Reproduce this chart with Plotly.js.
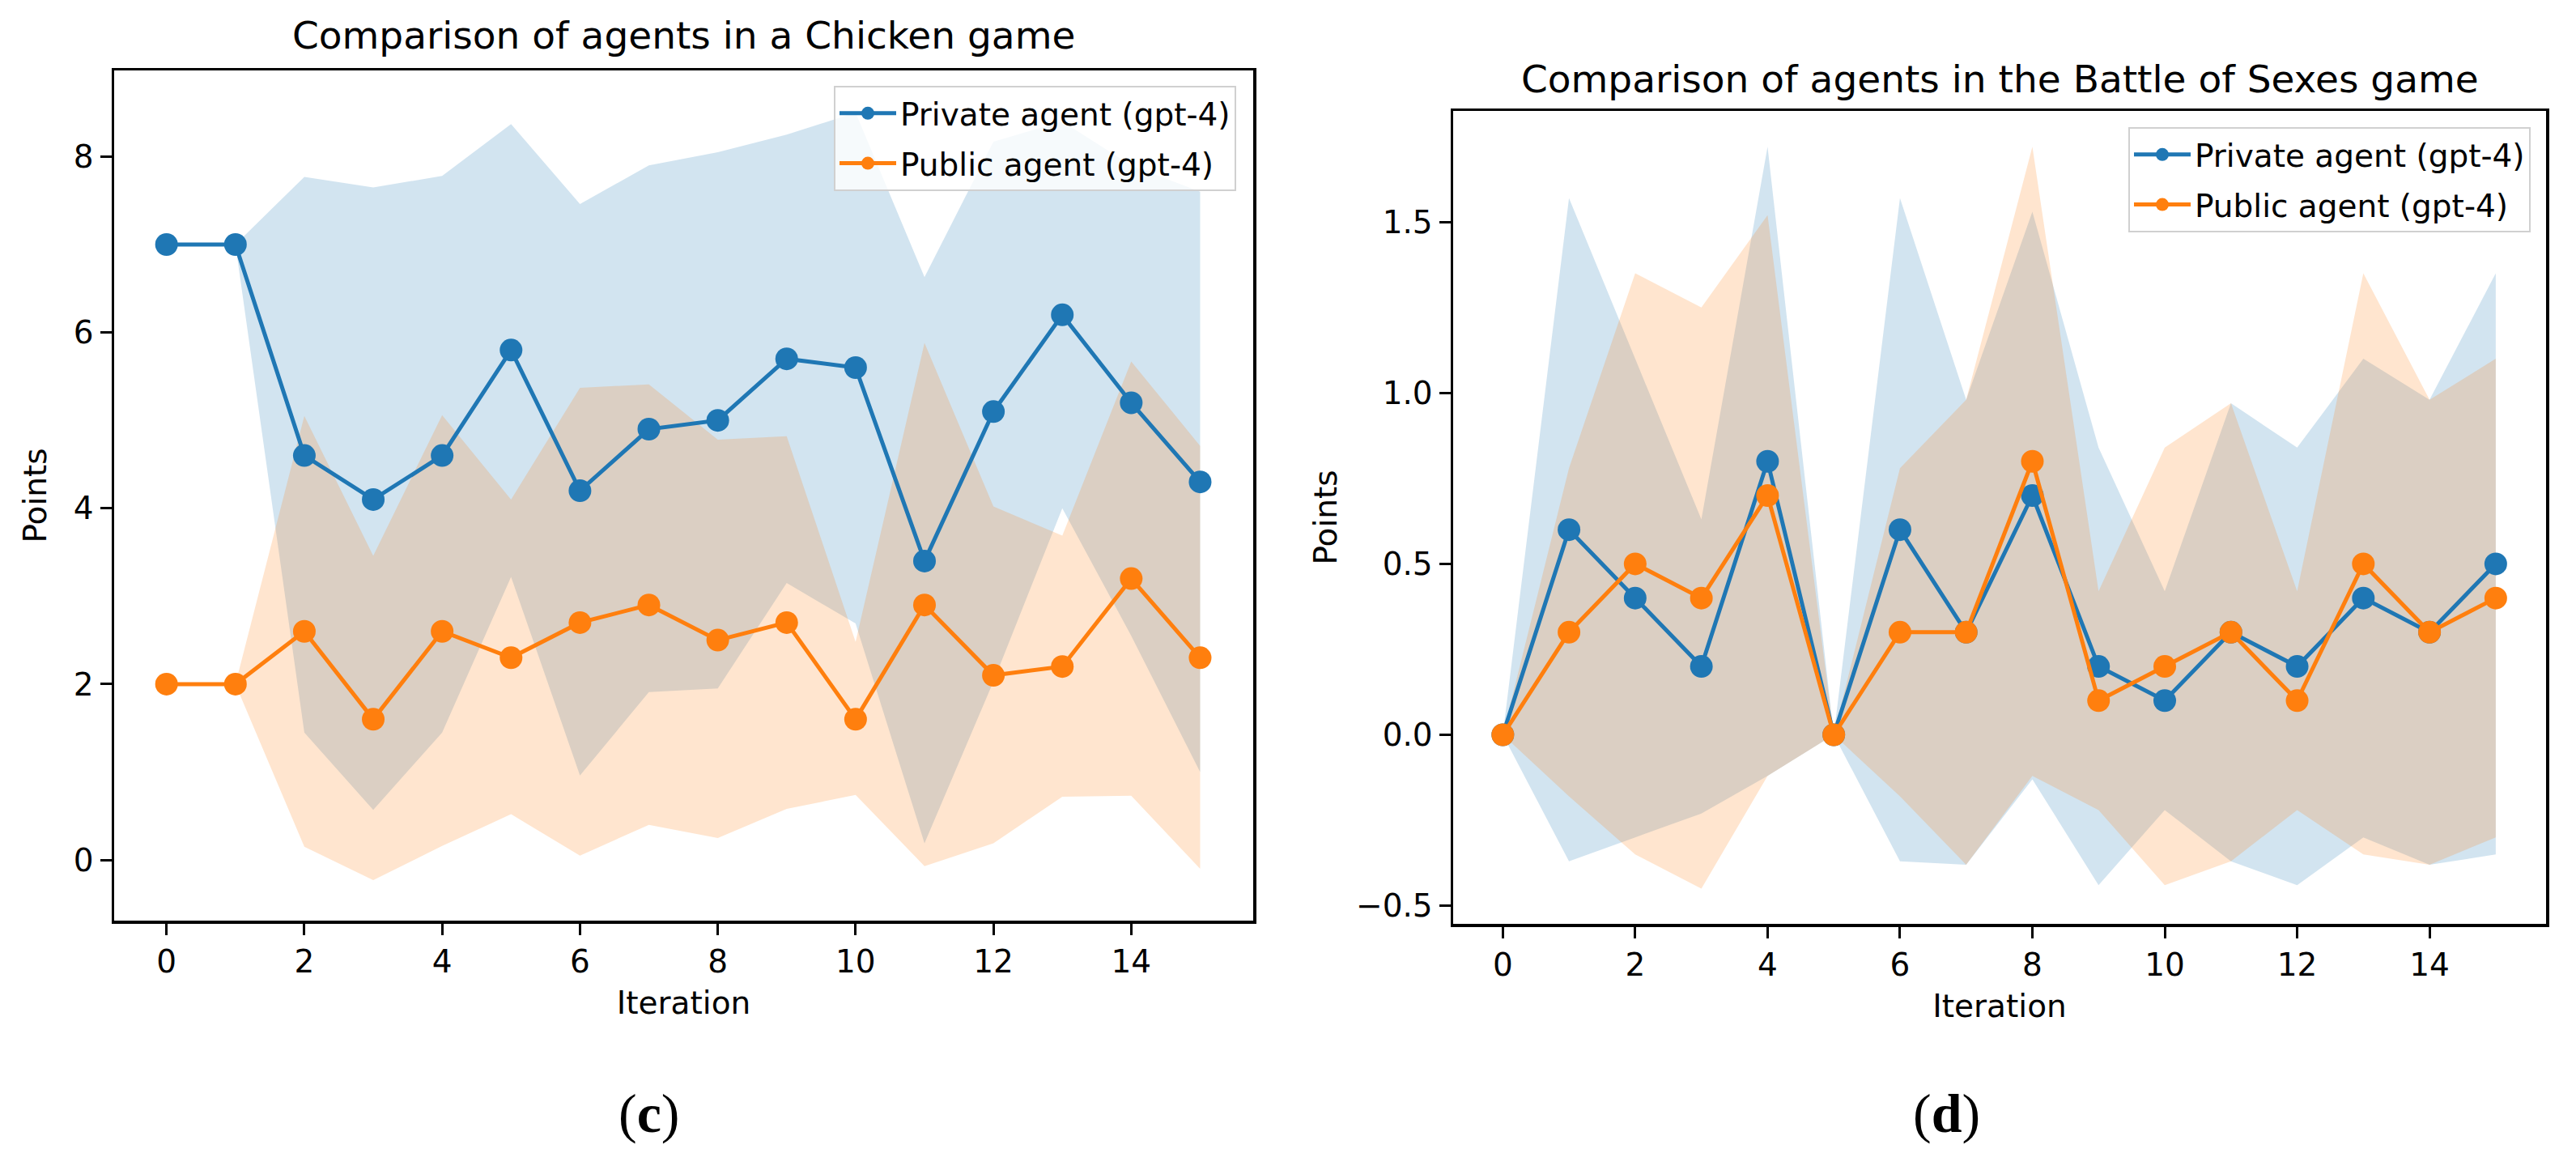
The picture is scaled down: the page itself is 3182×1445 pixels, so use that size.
<!DOCTYPE html>
<html>
<head>
<meta charset="utf-8">
<script src="https://cdn.plot.ly/plotly-3.0.1.min.js"></script>
<style>html,body{margin:0;padding:0;background:#fff;}#chart{width:3182px;height:1445px;}</style>
</head>
<body>
<div id="chart"></div>
<script>
const iterations = [0,1,2,3,4,5,6,7,8,9,10,11,12,13,14,15];

// (c) Chicken game
const chickenPrivate      = [7,7,4.6,4.1,4.6,5.8,4.2,4.9,5.0,5.7,5.6,3.4,5.1,6.2,5.2,4.3];
const chickenPrivateUpper = [7,7,7.77,7.65,7.78,8.37,7.46,7.90,8.05,8.25,8.50,6.63,8.17,8.40,7.90,7.60];
const chickenPrivateLower = [7,7,1.45,0.57,1.45,3.22,0.96,1.91,1.95,3.15,2.69,0.19,2.03,4.00,2.55,1.00];
const chickenPublic       = [2,2,2.6,1.6,2.6,2.3,2.7,2.9,2.5,2.7,1.6,2.9,2.1,2.2,3.2,2.3];
const chickenPublicUpper  = [2,2,5.05,3.46,5.06,4.10,5.37,5.41,4.78,4.82,2.48,5.88,4.02,3.69,5.67,4.71];
const chickenPublicLower  = [2,2,0.15,-0.23,0.16,0.52,0.05,0.40,0.25,0.58,0.74,-0.07,0.19,0.72,0.73,-0.10];

// (d) Battle of Sexes game
const bosPrivate      = [0,0.6,0.4,0.2,0.8,0,0.6,0.3,0.7,0.2,0.1,0.3,0.2,0.4,0.3,0.5];
const bosPrivateUpper = [0,1.57,1.10,0.63,1.72,0,1.57,0.98,1.53,0.84,0.42,0.97,0.84,1.10,0.98,1.35];
const bosPrivateLower = [0,-0.37,-0.30,-0.23,-0.12,0,-0.37,-0.38,-0.13,-0.44,-0.22,-0.37,-0.44,-0.30,-0.38,-0.35];
const bosPublic       = [0,0.3,0.5,0.4,0.7,0,0.3,0.3,0.8,0.1,0.2,0.3,0.1,0.5,0.3,0.4];
const bosPublicUpper  = [0,0.78,1.35,1.25,1.52,0,0.78,0.98,1.72,0.42,0.84,0.97,0.42,1.35,0.98,1.10];
const bosPublicLower  = [0,-0.18,-0.35,-0.45,-0.12,0,-0.18,-0.38,-0.12,-0.22,-0.44,-0.37,-0.22,-0.35,-0.38,-0.30];

const seriesNames = ['Private agent (gpt-4)', 'Public agent (gpt-4)'];
const titles = ['Comparison of agents in a Chicken game', 'Comparison of agents in the Battle of Sexes game'];
const captions = ['(<b>c</b>)', '(<b>d</b>)'];

const BLUE = '#1f77b4', ORANGE = '#ff7f0e';
const BLUE_FILL = 'rgba(31,119,180,0.2)', ORANGE_FILL = 'rgba(255,127,14,0.2)';
const FONT = '"DejaVu Sans", sans-serif';
const SERIF = '"Liberation Serif", "DejaVu Serif", serif';

function band(x, up, lo, color, xa, ya) {
  return [
    {x: x, y: up, type: 'scatter', mode: 'lines', line: {width: 0, color: color}, hoverinfo: 'skip', showlegend: false, xaxis: xa, yaxis: ya},
    {x: x, y: lo, type: 'scatter', mode: 'lines', line: {width: 0, color: color}, fill: 'tonexty', fillcolor: color, hoverinfo: 'skip', showlegend: false, xaxis: xa, yaxis: ya}
  ];
}
function line(x, y, color, name, xa, ya, lg, grp) {
  return {x: x, y: y, type: 'scatter', mode: 'lines+markers', name: name,
    line: {color: color, width: 5}, marker: {color: color, size: 28},
    xaxis: xa, yaxis: ya, legend: lg, legendgroup: grp};
}

const data = [].concat(
  band(iterations, chickenPrivateUpper, chickenPrivateLower, BLUE_FILL, 'x', 'y'),
  band(iterations, chickenPublicUpper, chickenPublicLower, ORANGE_FILL, 'x', 'y'),
  band(iterations, bosPrivateUpper, bosPrivateLower, BLUE_FILL, 'x2', 'y2'),
  band(iterations, bosPublicUpper, bosPublicLower, ORANGE_FILL, 'x2', 'y2'),
  [
    line(iterations, chickenPrivate, BLUE, seriesNames[0], 'x', 'y', 'legend', 'c1'),
    line(iterations, chickenPublic, ORANGE, seriesNames[1], 'x', 'y', 'legend', 'c2'),
    line(iterations, bosPrivate, BLUE, seriesNames[0], 'x2', 'y2', 'legend2', 'd1'),
    line(iterations, bosPublic, ORANGE, seriesNames[1], 'x2', 'y2', 'legend2', 'd2')
  ]
);

const axisBase = {
  showline: true, mirror: true, linecolor: '#000', linewidth: 3.5,
  ticks: 'outside', ticklen: 14, tickwidth: 3, tickcolor: '#000',
  showgrid: false, zeroline: false,
  tickfont: {family: FONT, size: 39, color: '#000'}
};
const W = 3182, H = 1445;
function px(v) { return v / W; }
function py(v) { return 1 - v / H; }

const legendBase = {
  bgcolor: 'rgba(255,255,255,0.8)', bordercolor: '#d0d0d0', borderwidth: 2,
  font: {family: FONT, size: 39, color: '#000'},
  xanchor: 'right', yanchor: 'top', itemwidth: 70,
  traceorder: 'grouped', tracegroupgap: 8
};

const axTitleFont = {family: FONT, size: 39, color: '#000'};
const layout = {
  width: W, height: H,
  margin: {l: 0, r: 0, t: 0, b: 0},
  paper_bgcolor: '#fff', plot_bgcolor: '#fff',
  xaxis: Object.assign({}, axisBase, {domain: [px(141), px(1548)], range: [-0.76, 15.77], dtick: 2, tick0: 0,
    anchor: 'y', title: {text: 'Iteration', font: axTitleFont, standoff: 16}}),
  yaxis: Object.assign({}, axisBase, {domain: [py(1137), py(87)], range: [-0.69, 8.98], dtick: 2, tick0: 0,
    anchor: 'x', title: {text: 'Points', font: axTitleFont, standoff: 22}}),
  xaxis2: Object.assign({}, axisBase, {domain: [px(1795), px(3145)], range: [-0.75, 15.76], dtick: 2, tick0: 0,
    anchor: 'y2', title: {text: 'Iteration', font: axTitleFont, standoff: 16}}),
  yaxis2: Object.assign({}, axisBase, {domain: [py(1141), py(137)], range: [-0.553, 1.825], dtick: 0.5, tick0: 0,
    tickformat: '.1f', anchor: 'x2', title: {text: 'Points', font: axTitleFont, standoff: 12}}),
  legend: Object.assign({}, legendBase, {x: px(1527), y: py(106)}),
  legend2: Object.assign({}, legendBase, {x: px(3126), y: py(157)}),
  annotations: [
    {text: titles[0], xref: 'paper', yref: 'paper', x: px(844), y: py(43), xanchor: 'center', yanchor: 'middle',
     showarrow: false, font: {family: FONT, size: 47, color: '#000'}},
    {text: titles[1], xref: 'paper', yref: 'paper', x: px(2470), y: py(97), xanchor: 'center', yanchor: 'middle',
     showarrow: false, font: {family: FONT, size: 47, color: '#000'}},
    {text: captions[0], xref: 'paper', yref: 'paper', x: px(802), y: py(1375), xanchor: 'center', yanchor: 'middle',
     showarrow: false, font: {family: SERIF, size: 68, color: '#000'}},
    {text: captions[1], xref: 'paper', yref: 'paper', x: px(2404), y: py(1375), xanchor: 'center', yanchor: 'middle',
     showarrow: false, font: {family: SERIF, size: 68, color: '#000'}}
  ]
};

Plotly.newPlot('chart', data, layout, {staticPlot: true, displayModeBar: false});
</script>
</body>
</html>
